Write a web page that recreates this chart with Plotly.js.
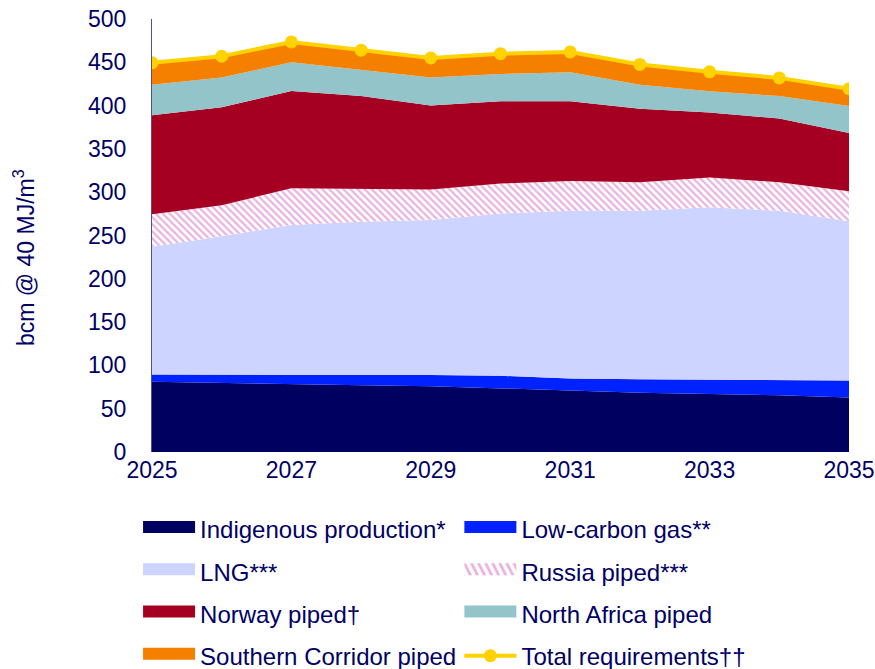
<!DOCTYPE html>
<html>
<head>
<meta charset="utf-8">
<script src="https://cdn.plot.ly/plotly-3.0.1.min.js"></script>
<style>
  html, body { margin: 0; padding: 0; background: #ffffff; }
  #chart { width: 875px; height: 669px; }
  /* taller legend swatches for the filled areas */
  #chart .legendfill path {
    transform-box: fill-box;
    transform-origin: center;
    transform: translateY(-3px) scaleY(2);
  }
</style>
</head>
<body>
<div id="chart"></div>
<script>
// Gas supply outlook, bcm @ 40 MJ/m3, stacked by source
const years = [2025, 2026, 2027, 2028, 2029, 2030, 2031, 2032, 2033, 2034, 2035];

const indigenous   = [81, 79.5, 78, 77, 76, 73.5, 70.5, 68.5, 67, 65.5, 63];
const lowCarbon    = [8.5, 9.5, 11, 12, 13, 14.5, 14.5, 15.5, 16.5, 18, 19.5];
const lng          = [147.5, 160, 173, 177, 179, 187.5, 193.5, 194.5, 199, 195, 184];
const russia       = [37.5, 36, 42.5, 38, 35, 34.5, 34.5, 33, 34.5, 33, 34.5];
const norway       = [114.5, 113, 112.5, 107, 97, 95, 92, 85, 75, 73.5, 67.5];
const northAfrica  = [35, 34.5, 33, 30, 32.5, 31.5, 33.5, 27.5, 24.5, 26, 31];
const southern     = [25.5, 24.5, 23.5, 23, 22.5, 23.5, 23.5, 23.5, 22.5, 21, 20];
const totalReq     = [449.5, 457, 473.5, 464, 455, 460, 462, 447.5, 439, 432, 419.5];

const seriesNames = [
  'Indigenous production*', 'Low-carbon gas**', 'LNG***', 'Russia piped***',
  'Norway piped\u2020', 'North Africa piped', 'Southern Corridor piped', 'Total requirements\u2020\u2020'
];
const yTitle = 'bcm @ 40 MJ/m<sup>3</sup>';

const textColor = '#000066';
const fontFamily = 'Arial, "Liberation Sans", sans-serif';

function area(name, y, color, legendId, group, extra) {
  return Object.assign({
    type: 'scatter', mode: 'lines', x: years, y: y, name: name,
    stackgroup: 'supply', fillcolor: color,
    line: { width: 0, color: color },
    legend: legendId, legendgroup: group,
    hoverinfo: 'x+y+name'
  }, extra || {});
}

const traces = [
  area(seriesNames[0], indigenous, '#000060', 'legend', 'g1'),
  area(seriesNames[1], lowCarbon, '#0022FF', 'legend2', 'g2'),
  area(seriesNames[2], lng, '#CCD4FF', 'legend', 'g3'),
  area(seriesNames[3], russia, '#ffffff', 'legend2', 'g4', {
    fillpattern: { shape: '\\', fgcolor: '#E9B2E1', bgcolor: '#ffffff', size: 5, solidity: 0.45 }
  }),
  area(seriesNames[4], norway, '#A50021', 'legend', 'g5'),
  area(seriesNames[5], northAfrica, '#92C4C9', 'legend2', 'g6'),
  area(seriesNames[6], southern, '#F58000', 'legend', 'g7'),
  {
    type: 'scatter', mode: 'lines+markers', x: years, y: totalReq, name: seriesNames[7],
    line: { color: '#FFD200', width: 4 },
    marker: { color: '#FFD200', size: 13 },
    legend: 'legend2', legendgroup: 'g8'
  }
];

const legendBase = {
  orientation: 'v', traceorder: 'grouped', tracegroupgap: 8,
  font: { family: fontFamily, size: 24, color: textColor },
  bgcolor: 'rgba(0,0,0,0)', yanchor: 'top', xanchor: 'left',
  itemwidth: 52
};

const layout = {
  width: 875, height: 669,
  margin: { l: 152, r: 26, t: 19, b: 217, autoexpand: false },
  paper_bgcolor: '#ffffff', plot_bgcolor: '#ffffff',
  font: { family: fontFamily, color: textColor, size: 23 },
  showlegend: true,
  xaxis: {
    range: [2025, 2035], dtick: 2, tick0: 2025,
    showgrid: false, zeroline: false, showline: false,
    ticks: '', ticklabelstandoff: 2,
    tickfont: { family: fontFamily, size: 23, color: textColor }
  },
  yaxis: {
    range: [0, 500], dtick: 50,
    showgrid: false, zeroline: false,
    showline: true, linecolor: '#50508a', linewidth: 1,
    ticks: '', ticklabelstandoff: 20,
    tickfont: { family: fontFamily, size: 23, color: textColor }
  },
  annotations: [{
    text: yTitle, xref: 'paper', yref: 'paper',
    x: -0.1836, y: 0.448, xanchor: 'center', yanchor: 'middle',
    textangle: -90, showarrow: false,
    font: { family: fontFamily, size: 23, color: textColor }
  }],
  legend: Object.assign({}, legendBase, { x: -0.02, y: -0.127 }),
  legend2: Object.assign({}, legendBase, { x: 0.441, y: -0.127 })
};

Plotly.newPlot('chart', traces, layout, { displayModeBar: false, staticPlot: true });
</script>
</body>
</html>
